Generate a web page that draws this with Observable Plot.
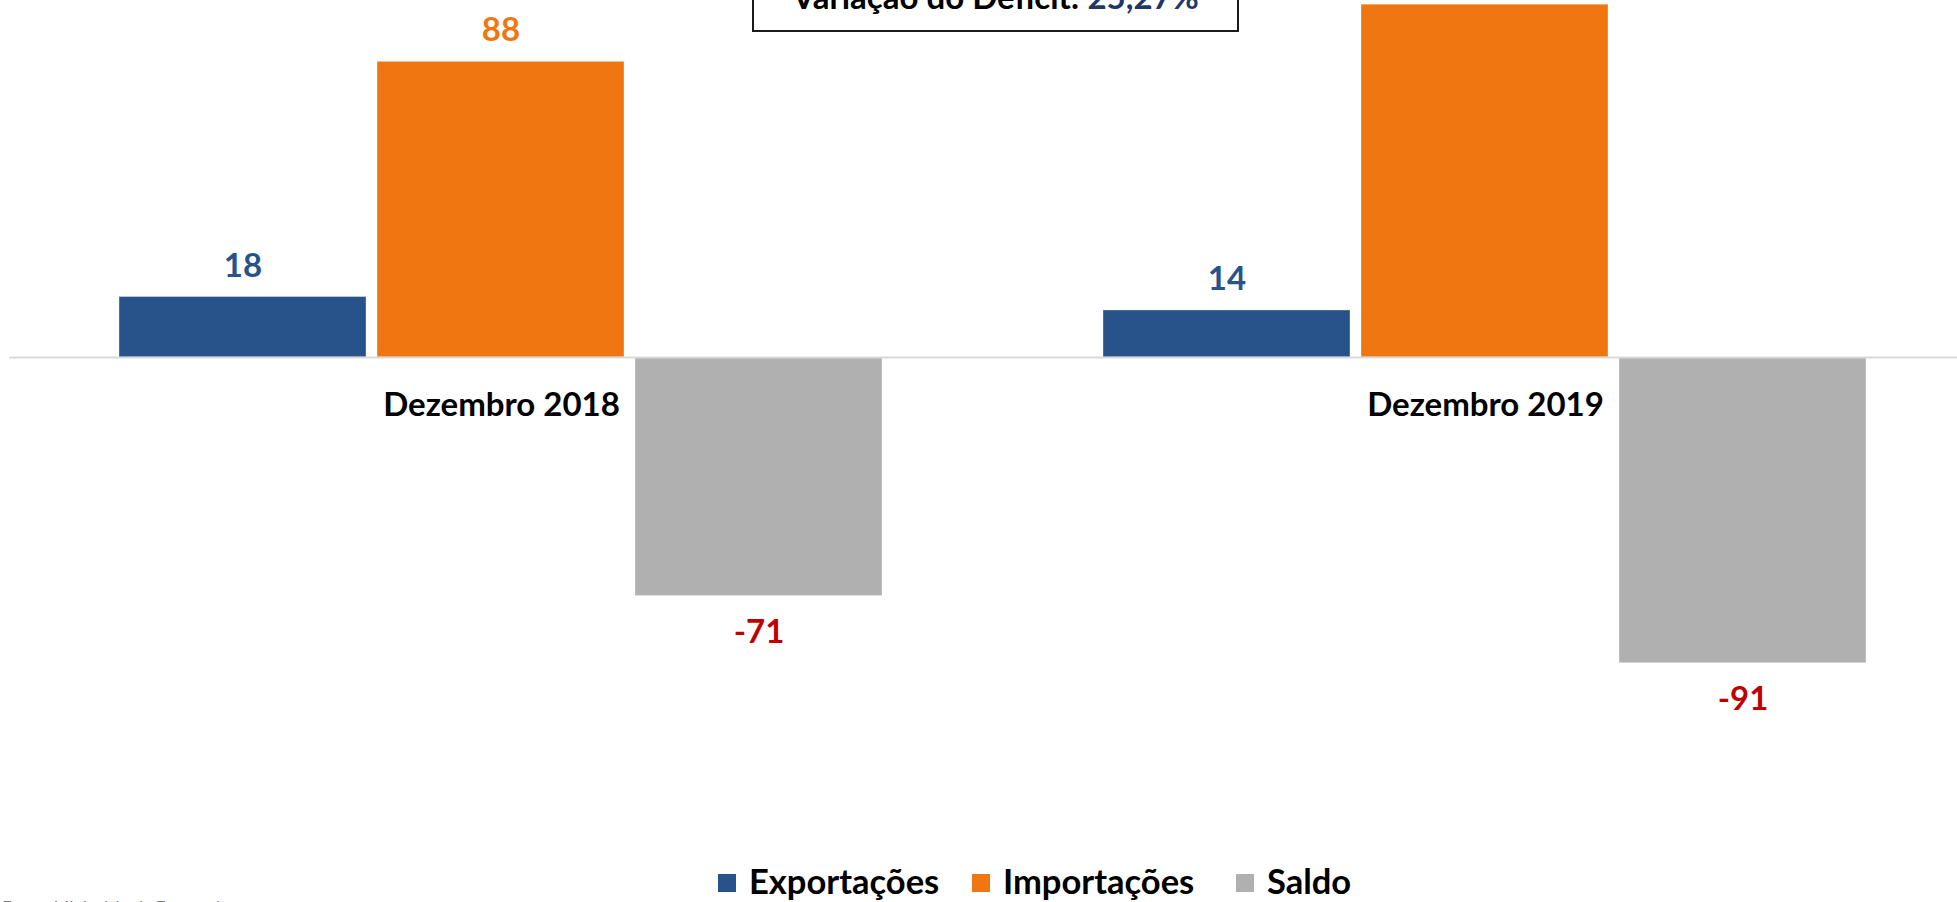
<!DOCTYPE html>
<html>
<head>
<meta charset="utf-8">
<script src="https://cdn.jsdelivr.net/npm/d3@7"></script>
<script src="https://cdn.jsdelivr.net/npm/@observablehq/plot@0.6"></script>
<style>
  html, body { margin: 0; padding: 0; background: #fff; overflow: hidden; width: 1957px; height: 902px; }
  #root { position: relative; width: 1957px; height: 902px; overflow: hidden; font-family: Lato, "Open Sans", sans-serif; font-weight: 700; }
  #chart { position: absolute; left: 0; top: 0; }
  #title-box { position: absolute; left: 752px; top: -40px; width: 487px; height: 72px; box-sizing: border-box;
    border: 2px solid #1a1a1a; background: #fff; display: flex; align-items: center; justify-content: center;
    font-size: 33px; line-height: 33px; color: #000; white-space: pre; }
  #title-box .val { color: #1f3864; }
  .legend-item { position: absolute; top: 864px; display: flex; align-items: center; font-size: 34.5px; line-height: 34px; color: #000; white-space: pre; }
  .legend-item .sw { width: 18px; height: 18px; margin-right: 13px; position: relative; top: 2px; }
  #source { position: absolute; left: 2px; top: 899px; font-size: 17px; line-height: 17px; color: #7f7f7f; font-weight: 400; white-space: pre; }
</style>
</head>
<body>
<div id="root"></div>
<script>
// ---- Data ----
const periods = ["Dezembro 2018", "Dezembro 2019"];
const series = ["Exportações", "Importações", "Saldo"];
const exportacoes = [18, 14];
const importacoes = [88, 105];
const saldo = [-71, -91];
const barColors = ["#27538a", "#f07611", "#b0b0b0"];
const labelColors = ["#27538a", "#f07611", "#c00000"];
const titleText = "Variação do Déficit: ";
const titleValue = "25,27%";
const sourceText = "Fonte: Ministério da Economia";

const valuesBySeries = [exportacoes, importacoes, saldo];
const data = periods.flatMap((p, i) =>
  series.map((s, j) => ({ period: p, series: s, value: valuesBySeries[j][i], j }))
);

// ---- Layout ----
const W = 1977, H = 902, zeroY = 357, pxPerUnit = 3.36;
const root = document.getElementById("root");

const chart = Plot.plot({
  width: W,
  height: H,
  marginTop: 0,
  marginBottom: 0,
  marginLeft: 9,
  marginRight: 0,
  style: { maxWidth: "none", background: "transparent", fontFamily: "Lato, 'Open Sans', sans-serif", overflow: "visible" },
  fx: { domain: periods, padding: 0, axis: null },
  x: { domain: series, paddingInner: 0.0426, paddingOuter: 0.428, axis: null },
  y: { domain: [-(H - zeroY) / pxPerUnit, zeroY / pxPerUnit], axis: null },
  color: { type: "identity" },
  marks: [
    Plot.barY(data, {
      fx: "period", x: "series", y: "value",
      fill: d => barColors[d.j],
      stroke: "white", strokeOpacity: 0.35, strokeWidth: 1
    }),
    Plot.ruleY([0], { stroke: "#d9d9d9", strokeWidth: 2 }),
    Plot.text(data.filter(d => d.value >= 0), {
      fx: "period", x: "series", y: "value",
      text: d => String(d.value), dy: -31,
      fill: d => labelColors[d.j], fontSize: 33, fontWeight: 700
    }),
    Plot.text(data.filter(d => d.value < 0), {
      fx: "period", x: "series", y: "value",
      text: d => String(d.value), dy: 36,
      fill: d => labelColors[d.j], fontSize: 33, fontWeight: 700
    }),
    Plot.text(periods, {
      fx: d => d, y: () => 0, text: d => d, dy: 48,
      fill: "#000", fontSize: 33, fontWeight: 700
    })
  ]
});
chart.id = "chart";
root.appendChild(chart);

// Title box (cropped at the top as in the reference)
const box = document.createElement("div");
box.id = "title-box";
const t1 = document.createElement("span"); t1.textContent = titleText;
const t2 = document.createElement("span"); t2.className = "val"; t2.textContent = titleValue;
box.appendChild(t1); box.appendChild(t2);
root.appendChild(box);

// Legend
const legendLefts = [718, 972, 1236];
series.forEach((s, j) => {
  const item = document.createElement("div");
  item.className = "legend-item";
  item.style.left = legendLefts[j] + "px";
  const sw = document.createElement("span");
  sw.className = "sw";
  sw.style.background = barColors[j];
  const lab = document.createElement("span");
  lab.textContent = s;
  item.appendChild(sw); item.appendChild(lab);
  root.appendChild(item);
});

// Source
const src = document.createElement("div");
src.id = "source";
src.textContent = sourceText;
root.appendChild(src);
</script>
</body>
</html>
